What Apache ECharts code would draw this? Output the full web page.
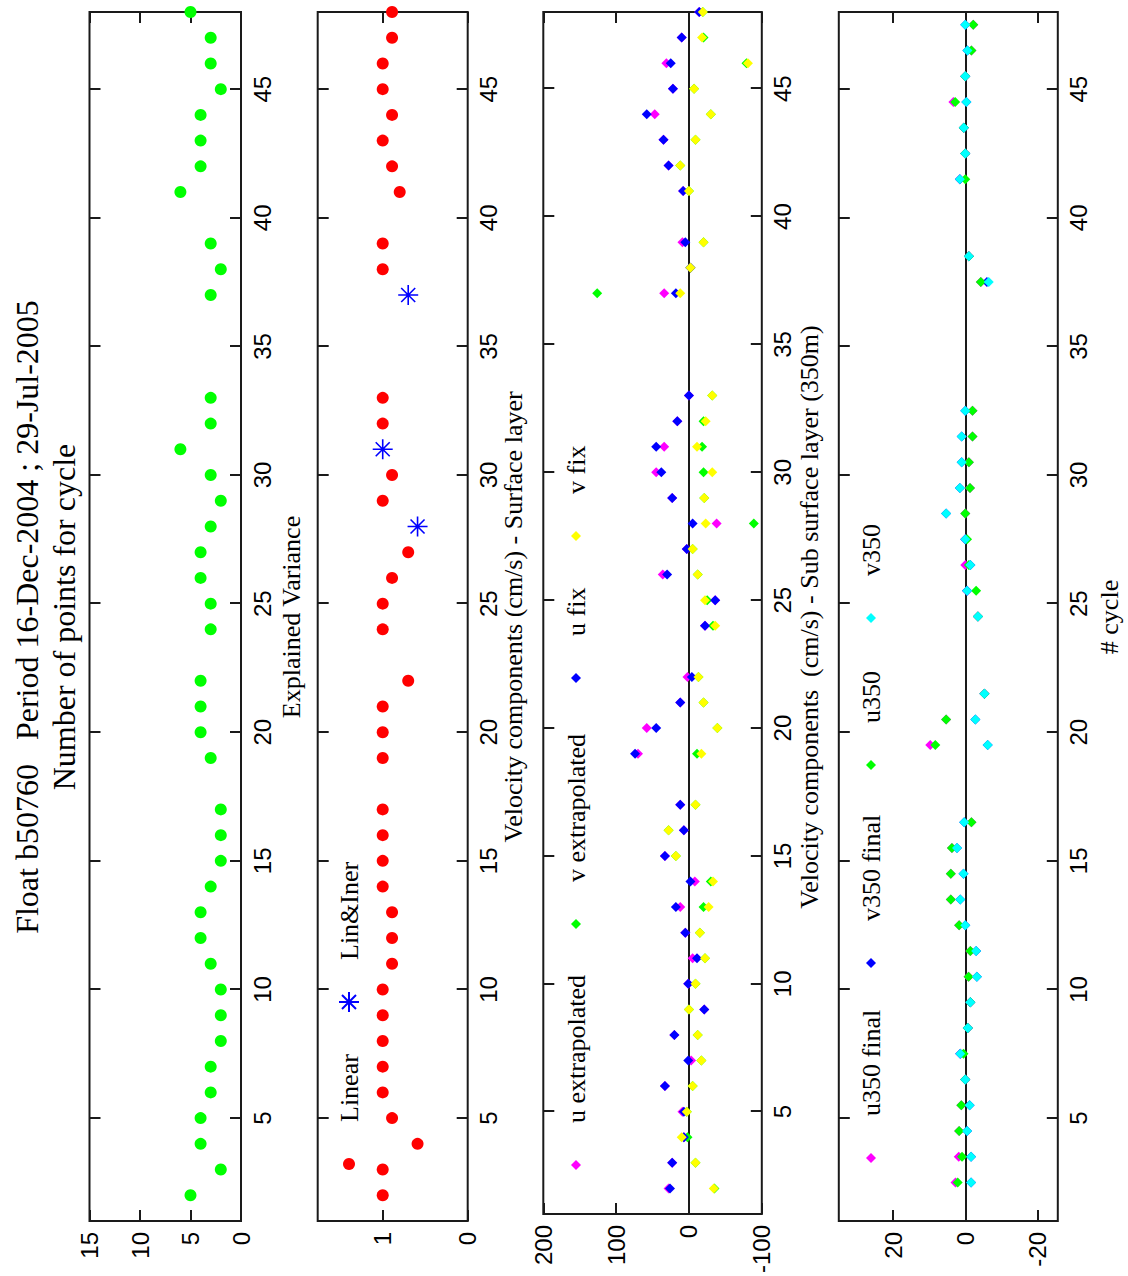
<!DOCTYPE html>
<html><head><meta charset="utf-8">
<script src="https://cdn.jsdelivr.net/npm/echarts@6/dist/echarts.min.js"></script>
<style>
html,body{margin:0;padding:0;width:1128px;height:1276px;overflow:hidden;background:#fff;}
#chart{position:absolute;left:0;top:0;width:1276px;height:1128px;transform-origin:0 0;transform:translate(0,1276px) rotate(-90deg);}
</style></head><body><div id="chart"></div>
<script>
// ---- data ----
const cycles = [2,3,4,5,6,7,8,9,10,11,12,13,14,15,16,17,19,20,21,22,24,25,26,27,28,29,30,31,32,33,37,38,39,41,42,43,44,45,46,47,48];
const nPoints = [5,2,4,4,3,3,2,2,2,3,4,4,3,2,2,2,3,4,4,4,3,3,4,4,3,2,3,6,3,3,3,2,3,6,4,4,4,2,3,3,5];
const linear = [1,1,0.59,0.89,1,1,1,1,1,0.89,0.89,0.89,1,1,1,1,1,1,1,0.70,1,1,0.89,0.70,null,1,0.89,null,1,1,null,1,1,0.80,0.89,1,0.89,1,1,0.89,0.89];
const linIner = [null,null,null,null,null,null,null,null,null,null,null,null,null,null,null,null,null,null,null,null,null,null,null,null,0.59,null,null,1.0,null,null,0.70,null,null,null,null,null,null,null,null,null,null];
const uExtrap = [28,23,7,9,33,-3,20,-21,1,-5,5,12,-8,33,7,12,70,58,12,2,-22,-36,36,3,-38,23,45,34,16,0,34,-2,9,8,28,35,47,22,31,10,-14];
const vExtrap = [-35,-9,2,3,-5,-17,-12,0,-9,-22,-15,-20,-30,18,28,-9,-11,-39,-20,-13,-33,-25,-12,-5,-89,-21,-20,-18,-20,-32,126,-2,-20,0,12,-9,-30,-7,-79,-20,-19];
const uFix = [26,23,7,7,33,1,20,-21,1,-11,5,18,-2,33,7,12,74,45,12,-4,-22,-36,30,3,-5,23,38,45,16,0,18,-2,5,8,28,35,58,22,25,10,-14];
const vFix = [-34,-9,10,3,-5,-17,-12,0,-9,-22,-15,-27,-33,18,28,-9,-17,-39,-20,-13,-36,-22,-12,-5,-23,-21,-32,-11,-23,-32,12,-2,-20,0,12,-9,-30,-7,-81,-18,-19];
const subCycles = [2.5,3.5,4.5,5.5,6.5,7.5,8.5,9.5,10.5,11.5,12.5,13.5,14.5,15.5,16.5,19.5,20.5,21.5,24.5,25.5,26.5,27.5,28.5,29.5,30.5,31.5,32.5,37.5,38.5,41.5,42.5,43.5,44.5,45.5,46.5,47.5];
const u350Final = [2.7,1.8,1.7,1.1,0,1.4,-0.7,-1.4,-0.9,-1.4,1.7,4,4,3.7,-1.7,9.7,5.3,-5.3,-3.5,-0.5,0,0,0,-1.3,-1,-2,-2,-4.3,-1,1.5,0,0.4,3.3,0,-1.7,-2.2];
const v350Final = [-1.6,-1.6,-0.5,-1.2,0,1.4,-0.7,-1.4,-3.2,-3,0,1.4,0.5,2.3,0.3,-6.2,-2.8,-5.3,-3.5,-0.5,-1.4,0,5.3,1.5,1,1,0,-6,-1,1.5,0,0.4,-0.3,0,-0.6,0];
const u350 = [2.1,0.9,1.7,1.1,0,0.5,-0.7,-1.4,-0.9,-1.4,1.7,4,4,3.7,-1.7,8.3,5.3,-5.3,-3.5,-3,-1,-0.5,0,-1.3,-1,-2,-2,-4.3,-1,0,0,0.4,2.8,0,-1.7,-2.2];
const v350 = [-1.6,-1.6,-0.5,-1.2,0,1.4,-0.7,-1.4,-3.2,-3,0,1.4,0.5,2.3,0.3,-6.2,-2.8,-5.3,-3.5,-0.5,-1.4,0,5.3,1.5,1,1,0,-6.5,-1,1.5,0,0.4,-0.3,0,-0.6,0];
const cycleTicks = [5,10,15,20,25,30,35,40,45];
const p1Ticks = [0,5,10,15];
const p2Ticks = [0,1];
const p3Ticks = [-100,0,100,200];
const p4Ticks = [-20,0,20];

// ---- layout / styles ----
const serif = '"Liberation Serif","Times New Roman",serif';
const sans = '"Liberation Sans",Arial,sans-serif';
const ink = '#1a1a1a';
const gridBoxes = [[89.5,151.5],[317.7,150],[543.3,218.5],[838.8,219]];
const yRanges = [[0,15,p1Ticks],[0,1.765,p2Ticks],[-100,200,p3Ticks],[-25.6,35,p4Ticks]];

const grid = gridBoxes.map(b => ({left:55, right:12, top:b[0], height:b[1], show:true, borderColor:ink, borderWidth:2, backgroundColor:'transparent'}));
const xAxis = [], yAxis = [];
const noLine = {show:false, onZero:false};
for (let i = 0; i < 4; i++) {
  const tick = (vals) => ({show:true, inside:true, length:11, customValues:vals, lineStyle:{color:ink, width:2}});
  xAxis.push({type:'value', gridIndex:i, min:1, max:48, position:'bottom', axisLine:noLine, splitLine:{show:false},
    axisTick:tick(cycleTicks), axisLabel:{customValues:cycleTicks, fontFamily:sans, fontSize:24, color:'#000', margin:9}});
  xAxis.push({type:'value', gridIndex:i, min:1, max:48, position:'top', axisLine:noLine, splitLine:{show:false},
    axisTick:tick(cycleTicks), axisLabel:{show:false}});
  const r = yRanges[i];
  yAxis.push({type:'value', gridIndex:i, min:r[0], max:r[1], position:'left', axisLine:noLine, splitLine:{show:false},
    axisTick:tick(r[2]), axisLabel:{customValues:r[2], fontFamily:sans, fontSize:24, color:'#000', margin:11}});
  yAxis.push({type:'value', gridIndex:i, min:r[0], max:r[1], position:'right', axisLine:noLine, splitLine:{show:false},
    axisTick:tick(r[2]), axisLabel:{show:false}});
}
const pairs = (xs, ys) => xs.map((x, i) => [x, ys[i]]).filter(p => p[1] !== null && p[1] !== undefined);
const starPath = 'path://M0 10L20 10M10 0L10 20M3 3L17 17M3 17L17 3';
const zeroLine = {silent:true, symbol:'none', z:1, label:{show:false}, lineStyle:{color:ink, width:2, type:'solid', opacity:1}, data:[{yAxis:0}]};

function sc(name, g, data, symbol, size, color, extra) {
  return Object.assign({name, type:'scatter', xAxisIndex:2*g, yAxisIndex:2*g, data, symbol, symbolSize:size,
    itemStyle:{color, opacity:1}, silent:true, z:2}, extra || {});
}
const series = [
  sc('npts', 0, pairs(cycles, nPoints), 'circle', 12, '#00ff00'),
  sc('Linear', 1, pairs(cycles, linear), 'circle', 12, '#ff0000'),
  sc('Lin&Iner', 1, pairs(cycles, linIner), starPath, 20, 'rgba(0,0,255,0)', {itemStyle:{color:'rgba(0,0,255,0)', borderColor:'#0000ff', borderWidth:1.6, opacity:1}}),
  sc('u extrapolated', 2, pairs(cycles, uExtrap), 'diamond', 10, '#ff00ff', {markLine:zeroLine}),
  sc('v extrapolated', 2, pairs(cycles, vExtrap), 'diamond', 10, '#00ff00'),
  sc('u fix', 2, pairs(cycles, uFix), 'diamond', 10, '#0000ff'),
  sc('v fix', 2, pairs(cycles, vFix), 'diamond', 10, '#ffff00'),
  sc('u350 final', 3, pairs(subCycles, u350Final), 'diamond', 10, '#ff00ff', {markLine:zeroLine}),
  sc('v350 final', 3, pairs(subCycles, v350Final), 'diamond', 10, '#0000ff'),
  sc('u350', 3, pairs(subCycles, u350), 'diamond', 10, '#00ff00'),
  sc('v350', 3, pairs(subCycles, v350), 'diamond', 10, '#00ffff')
];

// legend entries: name, marker centre x, row centre y, icon size
const legendSpecs = [
  ['Linear',112,349,12], ['Lin&Iner',273,349,20],
  ['u extrapolated',111,576,10], ['v extrapolated',352,576,10], ['u fix',598,576,10], ['v fix',740,576,10],
  ['u350 final',118,871,10], ['v350 final',313,871,10], ['u350',511,871,10], ['v350',658,871,10]
];
const textOffset = 42;
const legend = legendSpecs.map(s => ({
  data:[s[0]], left:s[1] - s[3]/2, top:s[2] - 13, padding:0, itemGap:0, itemWidth:s[3], itemHeight:s[3],
  selectedMode:false, textStyle:{fontFamily:serif, fontSize:26, color:'#000', padding:[0,0,0,textOffset - 5 - s[3]/2], lineHeight:26}
}));

const txt = (text, y, size) => ({type:'text', x:659, y, silent:true,
  style:{text, fontFamily:serif, fontSize:size, fill:'#000', align:'center', verticalAlign:'middle'}});
const graphic = [
  txt('Float b50760\u00a0\u00a0\u00a0Period 16-Dec-2004 ; 29-Jul-2005', 27, 32),
  txt('Number of points for cycle', 64, 32),
  txt('Explained Variance', 291, 26),
  txt('Velocity components (cm/s) - Surface layer', 513, 26),
  txt('Velocity components \u00a0(cm/s) - Sub surface layer (350m)', 809, 26),
  txt('# cycle', 1109, 26)
];

const chart = echarts.init(document.getElementById('chart'), null, {renderer:'svg', width:1276, height:1128});
chart.setOption({animation:false, backgroundColor:'#fff', grid, xAxis, yAxis, series, legend, graphic});
</script></body></html>
